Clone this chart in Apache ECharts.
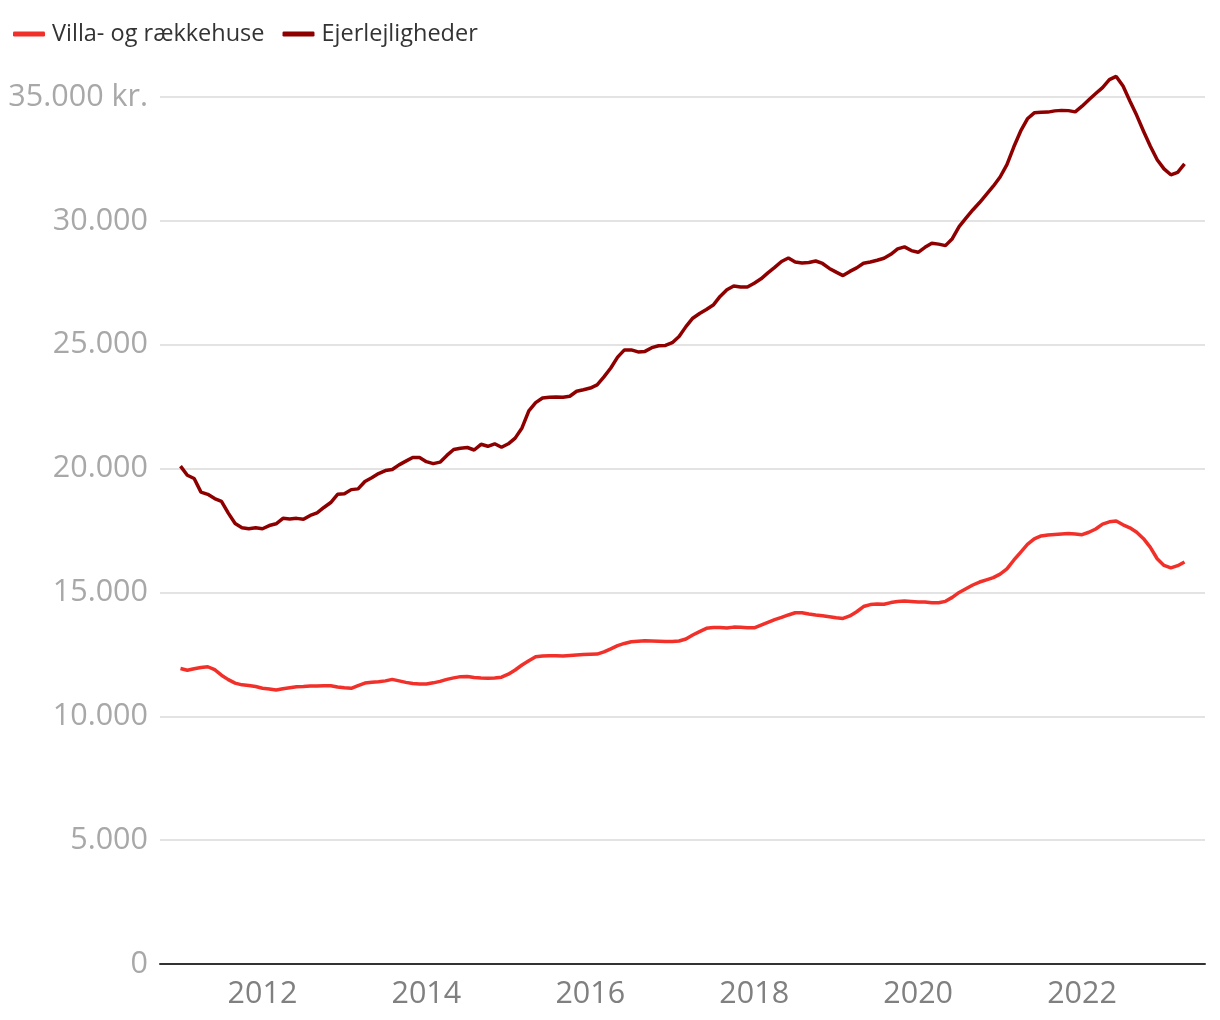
<!DOCTYPE html>
<html>
<head>
<meta charset="utf-8">
<script src="https://cdn.jsdelivr.net/npm/echarts@6/dist/echarts.min.js"></script>
<style>
html,body{margin:0;padding:0;background:#fff;}
#chart{width:1220px;height:1020px;}
</style>
</head>
<body>
<div id="chart"></div>
<script>
// Monthly series, January 2011 to April 2023 (kr. per m2)
const startYear = 2011;
const seriesNames = ['Villa- og rækkehuse', 'Ejerlejligheder'];
const villa = [
 11930,11860,11920,11970,12000,11880,11660,11480,11340,11270,11240,11200,
 11130,11100,11060,11110,11150,11190,11200,11220,11220,11230,11230,11180,
 11150,11130,11240,11340,11370,11390,11430,11490,11430,11370,11320,11300,
 11300,11350,11410,11490,11550,11600,11610,11570,11550,11540,11550,11580,
 11700,11870,12070,12240,12400,12430,12440,12440,12430,12450,12470,12490,
 12500,12510,12600,12720,12850,12940,13010,13030,13050,13040,13030,13020,
 13020,13040,13120,13280,13420,13550,13580,13580,13560,13600,13590,13570,
 13570,13680,13790,13900,13990,14090,14180,14180,14130,14090,14060,14020,
 13980,13950,14050,14220,14430,14510,14530,14520,14590,14630,14650,14630,
 14610,14610,14580,14580,14640,14800,15000,15150,15300,15420,15510,15600,
 15740,15950,16300,16620,16940,17160,17280,17320,17340,17360,17380,17360,
 17330,17430,17560,17760,17850,17880,17730,17610,17430,17170,16820,16360,
 16090,15990,16080,16230
];
const ejer = [
 20100,19730,19600,19050,18960,18790,18680,18200,17780,17610,17570,17610,
 17570,17700,17770,17990,17960,17990,17950,18110,18210,18430,18630,18960,
 18980,19150,19180,19480,19630,19800,19920,19960,20150,20300,20450,20450,
 20280,20200,20260,20530,20770,20820,20850,20750,20980,20900,21000,20860,
 21000,21230,21640,22330,22660,22850,22880,22890,22880,22920,23120,23180,
 23250,23380,23700,24060,24500,24790,24790,24710,24730,24880,24960,24970,
 25080,25330,25730,26070,26260,26420,26600,26950,27220,27370,27330,27330,
 27480,27660,27900,28120,28360,28500,28340,28300,28320,28380,28280,28080,
 27930,27790,27960,28100,28290,28340,28410,28490,28650,28870,28950,28800,
 28730,28930,29100,29060,29000,29280,29770,30110,30440,30740,31070,31400,
 31770,32270,32980,33620,34120,34360,34380,34390,34440,34460,34450,34400,
 34630,34890,35140,35380,35700,35830,35440,34840,34260,33620,33010,32470,
 32100,31860,31960,32300
];
const xTickLabels = ['2012','2014','2016','2018','2020','2022'];
const yTickValues = [0,5000,10000,15000,20000,25000,30000,35000];
const yTickLabels = ['0','5.000','10.000','15.000','20.000','25.000','30.000','35.000 kr.'];

// month positions as fractional years
const monthPos = villa.map((_, i) => startYear + i / 12);
const villaData = villa.map((v, i) => [monthPos[i], v]);
const ejerData = ejer.map((v, i) => [monthPos[i], v]);

const chart = echarts.init(document.getElementById('chart'), null, {renderer: 'canvas'});
const fontFamily = '"Open Sans", "Noto Sans", sans-serif';
chart.setOption({
  animation: false,
  backgroundColor: '#ffffff',
  legend: {
    left: 8,
    top: 17,
    itemWidth: 32,
    itemHeight: 5,
    itemGap: 18,
    icon: 'roundRect',
    textStyle: {fontFamily: fontFamily, fontSize: 23.5, color: '#333333', padding: [0,0,0,2]},
    data: seriesNames
  },
  grid: {left: 160, right: 15, top: 97, bottom: 56, containLabel: false},
  xAxis: {
    type: 'value',
    min: 2010.75,
    max: 2023.5,
    interval: 0.25,
    axisLine: {show: true, lineStyle: {color: '#333333', width: 2}},
    axisTick: {show: false},
    splitLine: {show: false},
    axisLabel: {
      margin: 15,
      fontFamily: fontFamily,
      fontSize: 30.5,
      color: '#808080',
      formatter: function (v) {
        const s = String(Math.round(v));
        return (Math.abs(v - Math.round(v)) < 1e-6 && xTickLabels.indexOf(s) >= 0) ? s : '';
      }
    }
  },
  yAxis: {
    type: 'value',
    min: 0,
    max: 35000,
    interval: 5000,
    axisLine: {show: false},
    axisTick: {show: false},
    splitLine: {show: true, lineStyle: {color: '#e3e3e3', width: 2}},
    axisLabel: {
      margin: 12,
      fontFamily: fontFamily,
      fontSize: 30.5,
      color: '#a8a8a8',
      formatter: function (v) {
        const k = yTickValues.indexOf(v);
        return k >= 0 ? yTickLabels[k] : '';
      }
    }
  },
  series: [
    {
      name: seriesNames[0],
      type: 'line',
      data: villaData,
      showSymbol: false,
      clip: false,
      lineStyle: {color: '#f2302a', width: 3.5},
      itemStyle: {color: '#f2302a'},
      z: 3
    },
    {
      name: seriesNames[1],
      type: 'line',
      data: ejerData,
      showSymbol: false,
      clip: false,
      lineStyle: {color: '#8e0000', width: 3.5},
      itemStyle: {color: '#8e0000'},
      z: 3
    }
  ]
});
</script>
</body>
</html>
